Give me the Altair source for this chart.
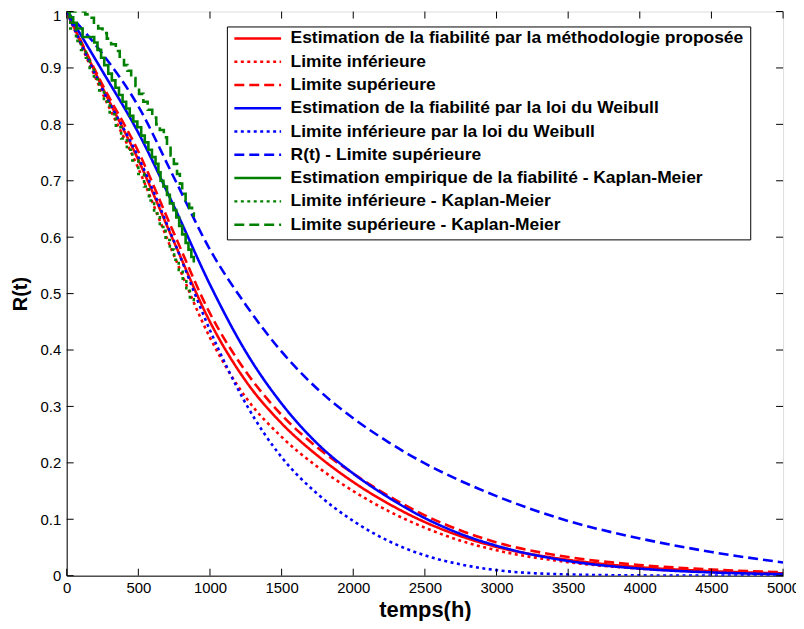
import altair as alt
import pandas as pd

# ---------------- data ----------------
t_grid = [0, 250, 500, 750, 1000, 1250, 1500, 1750, 2000, 2250, 2500, 2750,
          3000, 3500, 4000, 4500, 5000]

r_method = [1.0, 0.865, 0.737, 0.591, 0.450, 0.345, 0.270, 0.213, 0.166, 0.127,
            0.095, 0.070, 0.051, 0.028, 0.015, 0.008, 0.004]
r_method_low = [1.0, 0.855, 0.722, 0.567, 0.422, 0.316, 0.246, 0.193, 0.150, 0.114,
                0.085, 0.062, 0.045, 0.024, 0.0125, 0.0065, 0.003]
r_method_up = [1.0, 0.870, 0.752, 0.606, 0.465, 0.362, 0.285, 0.227, 0.181, 0.141,
               0.107, 0.080, 0.059, 0.033, 0.019, 0.011, 0.006]
r_weib = [1.0, 0.894, 0.785, 0.654, 0.516, 0.397, 0.305, 0.234, 0.181, 0.138,
          0.102, 0.074, 0.053, 0.026, 0.0125, 0.0058, 0.0027]
r_weib_low = [1.0, 0.862, 0.742, 0.592, 0.435, 0.305, 0.210, 0.145, 0.097, 0.061,
              0.036, 0.020, 0.0098, 0.0022, 0.0005, 0.0001, 0.0]
r_weib_up = [1.0, 0.925, 0.832, 0.705, 0.578, 0.480, 0.397, 0.331, 0.279, 0.236,
             0.199, 0.168, 0.141, 0.097, 0.066, 0.042, 0.0235]

# Kaplan-Meier staircases
km_t = [0, 20, 45, 70, 111, 192, 215, 240, 262, 290, 315, 340, 365, 390, 415, 440,
        465, 493, 520, 545, 570, 595, 620, 640, 655, 675, 700, 720, 745, 765, 785,
        806, 830, 850, 870, 887]
km_r = [1.0, 0.99, 0.98, 0.97, 0.955, 0.945, 0.932, 0.918, 0.905, 0.89, 0.878,
        0.865, 0.852, 0.84, 0.828, 0.815, 0.805, 0.795, 0.78, 0.768, 0.755, 0.742,
        0.73, 0.715, 0.7, 0.69, 0.675, 0.66, 0.648, 0.635, 0.62, 0.605, 0.59,
        0.578, 0.565, 0.555]

kmu_t = [0, 100, 130, 160, 190, 220, 250, 280, 310, 343, 370, 400, 424, 450, 480,
         505, 535, 565, 597, 625, 650, 678, 700, 725, 748, 770, 790, 806, 830, 855,
         875, 887]
kmu_r = [1.0, 1.0, 0.995, 0.989, 0.98, 0.97, 0.962, 0.952, 0.942, 0.93, 0.92,
         0.905, 0.895, 0.882, 0.868, 0.854, 0.84, 0.826, 0.812, 0.8, 0.79, 0.777,
         0.762, 0.745, 0.73, 0.712, 0.695, 0.677, 0.665, 0.652, 0.642, 0.636]

kml_t = [0, 25, 65, 100, 134, 160, 190, 227, 260, 300, 343, 380, 420, 458, 500,
         540, 574, 610, 650, 690, 720, 750, 782, 810, 835, 860, 887]
kml_r = [1.0, 0.97, 0.948, 0.932, 0.918, 0.9, 0.88, 0.86, 0.84, 0.818, 0.795,
         0.775, 0.755, 0.736, 0.712, 0.69, 0.665, 0.642, 0.618, 0.595, 0.578, 0.56,
         0.542, 0.522, 0.505, 0.49, 0.48]

x_ticks = [0, 500, 1000, 1500, 2000, 2500, 3000, 3500, 4000, 4500, 5000]
y_ticks = [0, 0.1, 0.2, 0.3, 0.4, 0.5, 0.6, 0.7, 0.8, 0.9, 1]

names = [
    "Estimation de la fiabilité par la méthodologie proposée",
    "Limite inférieure",
    "Limite supérieure",
    "Estimation de la fiabilité par la loi du Weibull",
    "Limite inférieure par la loi du Weibull",
    "R(t) - Limite supérieure",
    "Estimation empirique de la fiabilité - Kaplan-Meier",
    "Limite inférieure - Kaplan-Meier",
    "Limite supérieure - Kaplan-Meier",
]
colors = ["#ff0000", "#ff0000", "#ff0000", "#0000ff", "#0000ff", "#0000ff",
          "#008000", "#008000", "#008000"]
SOLID, DOT, DASH = [1, 0], [3, 3.5], [10, 5]
dashes = [SOLID, DOT, DASH, SOLID, DOT, DASH, SOLID, DOT, DASH]

# ---------------- tables ----------------
def rows(name, ts, rs):
    return [{"t": t, "R": r, "serie": name} for t, r in zip(ts, rs)]

smooth_df = pd.DataFrame(
    rows(names[0], t_grid, r_method) + rows(names[1], t_grid, r_method_low)
    + rows(names[2], t_grid, r_method_up) + rows(names[3], t_grid, r_weib)
    + rows(names[4], t_grid, r_weib_low) + rows(names[5], t_grid, r_weib_up))
km_df = pd.DataFrame(
    rows(names[6], km_t, km_r) + rows(names[7], kml_t, kml_r) + rows(names[8], kmu_t, kmu_r))

W, H = 720, 567
FONT = "Liberation Sans"

xs = alt.Scale(domain=[0, 5000], nice=False, zero=False)
ys = alt.Scale(domain=[0, 1], nice=False, zero=False)

color_enc = alt.Color(
    "serie:N",
    scale=alt.Scale(domain=names, range=colors),
    legend=alt.Legend(
        title=None, orient="none", legendX=161, legendY=15,
        symbolType="stroke", symbolSize=2209, symbolStrokeWidth=2.5,
        clipHeight=12, rowPadding=5.4,
        labelFont=FONT, labelFontSize=17.5, labelFontWeight="bold",
        labelColor="black", labelLimit=700, labelOffset=8,
        padding=6, strokeColor="black", fillColor="white",
    ),
)
dash_enc = alt.StrokeDash("serie:N", scale=alt.Scale(domain=names, range=dashes))

x_enc = alt.X("t:Q", scale=xs, axis=alt.Axis(
    title="temps(h)", values=x_ticks, format="d", ticks=False, grid=False,
    labelFont=FONT, labelFontSize=15, labelColor="black", labelPadding=5,
    titleFont=FONT, titleFontSize=22, titleFontWeight="bold", titleColor="black",
    titlePadding=4, domainColor="black", labelFlush=False))
y_enc = alt.Y("R:Q", scale=ys, axis=alt.Axis(
    title="R(t)", values=y_ticks, ticks=False, grid=False,
    labelFont=FONT, labelFontSize=15, labelColor="black", labelPadding=6,
    titleFont=FONT, titleFontSize=20, titleFontWeight="bold", titleColor="black",
    titlePadding=10, domainColor="black", labelFlush=False,
    labelOffset={"condition": {"test": "datum.value == 1", "value": 4}, "value": 0},
    labelExpr="datum.value == 0 ? '0' : datum.value == 1 ? '1' : format(datum.value, '.1f')"))

smooth = alt.Chart(smooth_df).mark_line(strokeWidth=2.6, clip=True, interpolate="monotone").encode(
    x=x_enc, y=y_enc, color=color_enc, strokeDash=dash_enc, detail="serie:N")

km = alt.Chart(km_df).mark_line(strokeWidth=2.6, clip=True, interpolate="step-after").encode(
    x=alt.X("t:Q", scale=xs), y=alt.Y("R:Q", scale=ys),
    color=alt.Color("serie:N"), strokeDash=alt.StrokeDash("serie:N"), detail="serie:N")

xt_df = pd.DataFrame({"v": x_ticks})
yt_df = pd.DataFrame({"v": y_ticks})
tick_x_bottom = alt.Chart(xt_df).mark_rule(color="black", strokeWidth=1).encode(
    x=alt.X("v:Q", scale=xs), y=alt.value(H), y2=alt.value(H - 7))
tick_x_top = alt.Chart(xt_df).mark_rule(color="black", strokeWidth=1).encode(
    x=alt.X("v:Q", scale=xs), y=alt.value(0), y2=alt.value(7))
tick_y_left = alt.Chart(yt_df).mark_rule(color="black", strokeWidth=1).encode(
    y=alt.Y("v:Q", scale=ys), x=alt.value(0), x2=alt.value(7))
tick_y_right = alt.Chart(yt_df).mark_rule(color="black", strokeWidth=1).encode(
    y=alt.Y("v:Q", scale=ys), x=alt.value(W), x2=alt.value(W - 7))

chart = alt.layer(smooth, km, tick_x_bottom, tick_x_top, tick_y_left, tick_y_right).properties(
    width=W, height=H, autosize="none",
    padding={"left": 59, "top": 2, "right": 13, "bottom": 44},
).configure_view(stroke="black", strokeWidth=1).configure(background="white")

chart.save("out.html", embed_options={"renderer": "svg", "actions": False})
